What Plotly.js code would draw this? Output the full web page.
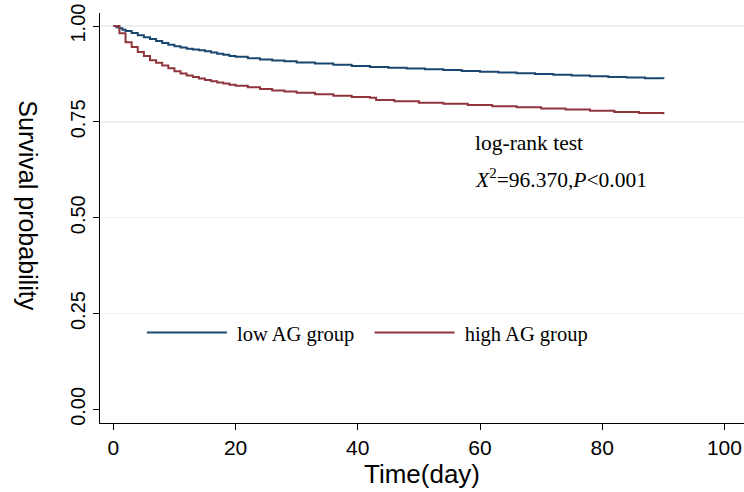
<!DOCTYPE html>
<html>
<head>
<meta charset="utf-8">
<script src="https://cdn.plot.ly/plotly-3.0.1.min.js"></script>
<style>html,body{margin:0;padding:0;background:#fff;}#chart{width:744px;height:492px;}</style>
</head>
<body>
<div id="chart"></div>
<script>
// Kaplan-Meier estimates
const lowTime = [0, 0.5, 1, 1.5, 2, 3, 4, 5, 6, 7, 8, 9, 10, 11, 12, 13, 14, 15, 16, 17, 18, 19, 20, 22, 24, 26, 28, 30, 33, 36, 39, 42, 45, 48, 51, 54, 57, 60, 63, 66, 69, 72, 75, 78, 81, 84, 87, 90];
const lowSurv = [1.000, 0.997, 0.994, 0.990, 0.987, 0.982, 0.976, 0.971, 0.966, 0.961, 0.956, 0.951, 0.947, 0.944, 0.941, 0.939, 0.937, 0.934, 0.931, 0.928, 0.925, 0.922, 0.920, 0.916, 0.913, 0.910, 0.908, 0.905, 0.902, 0.899, 0.896, 0.893, 0.891, 0.889, 0.887, 0.885, 0.883, 0.881, 0.879, 0.877, 0.875, 0.873, 0.871, 0.869, 0.867, 0.866, 0.864, 0.862];

const highTime = [0, 1, 2, 3, 4, 5, 6, 7, 8, 9, 10, 11, 12, 13, 14, 15, 16, 17, 18, 19, 20, 22, 24, 26, 28, 30, 33, 36, 39, 42, 43, 46, 50, 54, 58, 62, 66, 70, 74, 78, 82, 86, 90];
const highSurv = [1.000, 0.981, 0.958, 0.945, 0.932, 0.922, 0.911, 0.904, 0.897, 0.890, 0.882, 0.876, 0.871, 0.867, 0.863, 0.859, 0.856, 0.853, 0.850, 0.847, 0.844, 0.840, 0.836, 0.832, 0.829, 0.826, 0.822, 0.818, 0.815, 0.813, 0.807, 0.804, 0.800, 0.797, 0.794, 0.791, 0.788, 0.785, 0.782, 0.779, 0.776, 0.773, 0.770];

const groupNames = ["low AG group", "high AG group"];
const xTicks = [0, 20, 40, 60, 80, 100];
const yTicks = [0, 0.25, 0.5, 0.75, 1];
const yTickText = ["0.00", "0.25", "0.50", "0.75", "1.00"];
const gridVals = [0.25, 0.5, 0.75, 1];

const sans = "Liberation Sans, Arial, sans-serif";
const serif = "Liberation Serif, Times New Roman, serif";

const traces = [
  {x: lowTime, y: lowSurv, name: "&nbsp;" + groupNames[0] + "&nbsp;&nbsp;", type: "scatter", mode: "lines",
   line: {shape: "hv", color: "#1a476f", width: 2}},
  {x: highTime, y: highSurv, name: "&nbsp;" + groupNames[1], type: "scatter", mode: "lines",
   line: {shape: "hv", color: "#90353b", width: 2}}
];

const yRange = [-0.0355, 1.034];

const layout = {
  width: 744, height: 492,
  margin: {l: 100, r: 0, t: 13, b: 69},
  paper_bgcolor: "#fff", plot_bgcolor: "#fff",
  showlegend: true,
  legend: {orientation: "h", x: 0.065, y: 0.22, xanchor: "left", yanchor: "middle",
           font: {family: serif, size: 20.5, color: "#000"}, bgcolor: "rgba(0,0,0,0)",
           itemwidth: 80, tracegroupgap: 0},
  xaxis: {range: [-2.18, 103.2], tickvals: xTicks, ticktext: xTicks.map(String),
          ticks: "outside", ticklen: 6, tickcolor: "#000", showgrid: false, zeroline: false,
          showline: true, linecolor: "#000", linewidth: 1,
          tickfont: {family: sans, size: 21, color: "#000"},
          title: {text: "Time(day)", font: {family: sans, size: 26, color: "#000"}, standoff: 2}},
  yaxis: {range: yRange, tickvals: yTicks, ticktext: yTickText, tickangle: -90,
          ticks: "outside", ticklen: 6, tickcolor: "#000", showgrid: false, zeroline: false,
          showline: true, linecolor: "#000", linewidth: 1,
          tickfont: {family: sans, size: 20, color: "#000"}},
  yaxis2: {range: yRange, overlaying: "y", tickvals: gridVals, showticklabels: false,
           ticks: "", showgrid: true, gridcolor: "#eaf2f3", gridwidth: 1.5,
           zeroline: false, showline: false},
  annotations: [
    {text: "Survival probability", textangle: 90, xref: "paper", yref: "paper",
     x: -0.111, y: 0.532, xanchor: "center", yanchor: "middle", showarrow: false,
     font: {family: sans, size: 25, color: "#000"}},
    {text: "log-rank test", xref: "paper", yref: "paper", x: 0.579, y: 0.683,
     xanchor: "left", yanchor: "middle", showarrow: false,
     font: {family: serif, size: 21.5, color: "#000"}},
    {text: "<i>X</i><sup>2</sup>=96.370,<i>P</i>&lt;0.001", xref: "paper", yref: "paper",
     x: 0.579, y: 0.596, xanchor: "left", yanchor: "middle", showarrow: false,
     font: {family: serif, size: 21.5, color: "#000"}}
  ]
};

// invisible trace to activate the overlay axis that carries the gridlines
traces.push({x: [0], y: [0], yaxis: "y2", type: "scatter", mode: "markers",
             marker: {opacity: 0}, showlegend: false, hoverinfo: "skip"});

Plotly.newPlot("chart", traces, layout, {displayModeBar: false, staticPlot: true});
</script>
</body>
</html>
